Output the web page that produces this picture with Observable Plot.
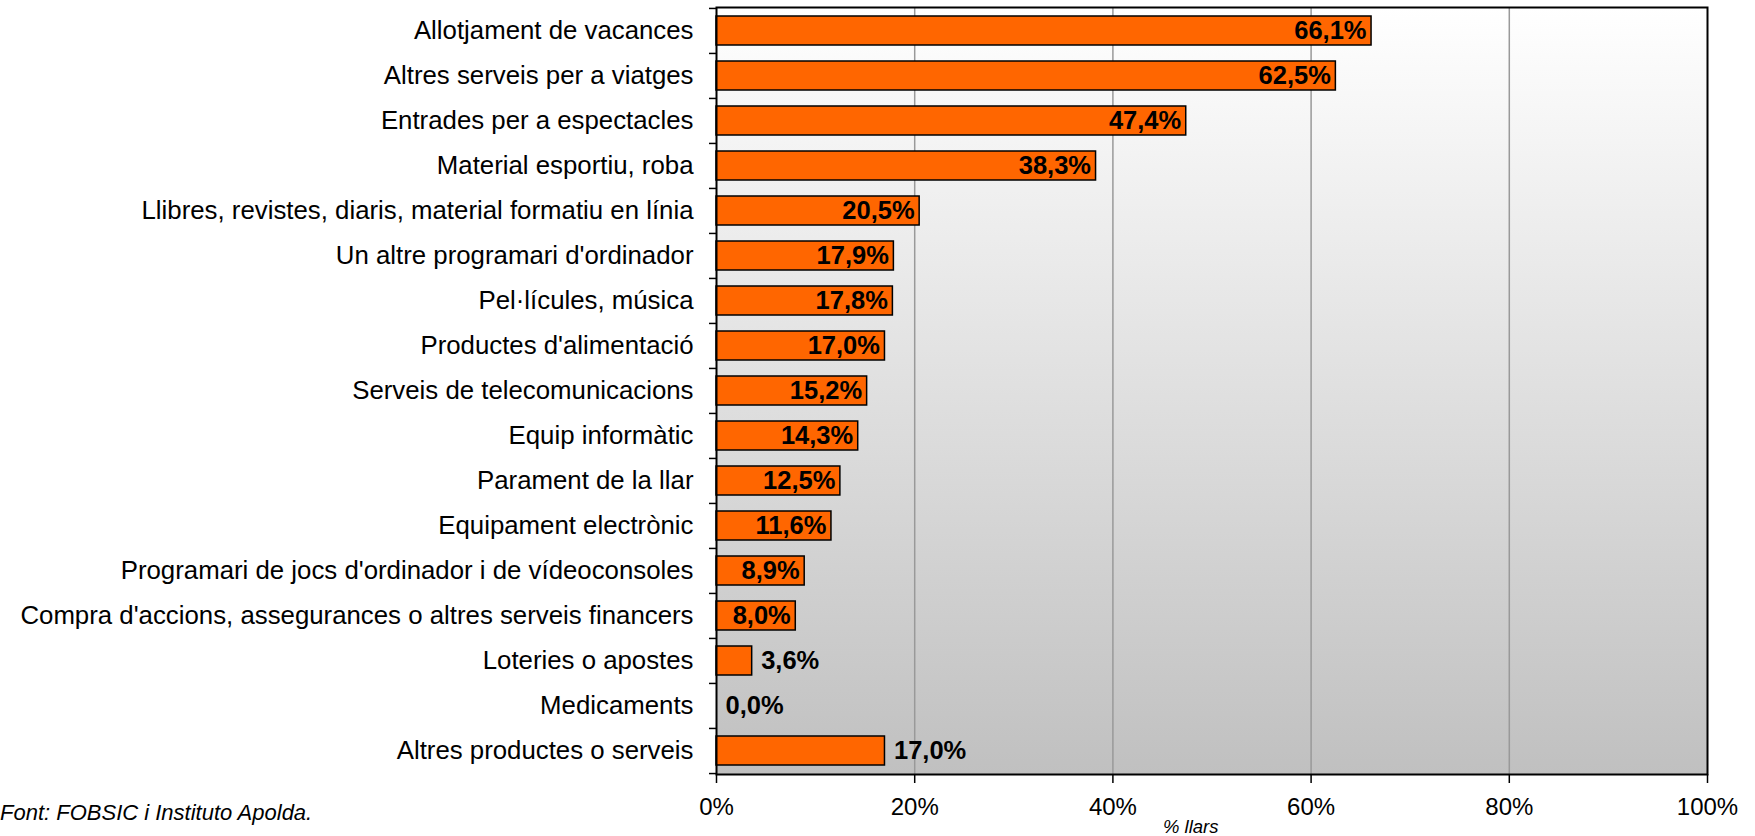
<!DOCTYPE html>
<html>
<head>
<meta charset="utf-8">
<script src="https://cdn.jsdelivr.net/npm/d3@7"></script>
<script src="https://cdn.jsdelivr.net/npm/@observablehq/plot@0.6"></script>
<style>
  html, body { margin: 0; padding: 0; background: #fff; }
  #wrap { position: relative; width: 1755px; height: 836px; overflow: hidden; font-family: "Liberation Sans", Arial, sans-serif; color: #000; }
  #source { position: absolute; left: 0px; top: 800px; font-size: 22px; line-height: 26px; font-style: italic; white-space: nowrap; }
  #xlabel { position: absolute; left: 1163px; top: 816px; font-size: 18.5px; line-height: 22px; font-style: italic; white-space: nowrap; }
</style>
</head>
<body>
<div id="wrap">
  <div id="chart"></div>
  <div id="source">Font: FOBSIC i Instituto Apolda.</div>
  <div id="xlabel">% llars</div>
</div>
<script>
const categories = [
  "Allotjament de vacances",
  "Altres serveis per a viatges",
  "Entrades per a espectacles",
  "Material esportiu, roba",
  "Llibres, revistes, diaris, material formatiu en línia",
  "Un altre programari d'ordinador",
  "Pel·lícules, música",
  "Productes d'alimentació",
  "Serveis de telecomunicacions",
  "Equip informàtic",
  "Parament de la llar",
  "Equipament electrònic",
  "Programari de jocs d'ordinador i de vídeoconsoles",
  "Compra d'accions, assegurances o altres serveis financers",
  "Loteries o apostes",
  "Medicaments",
  "Altres productes o serveis"
];
const values = [66.1, 62.5, 47.4, 38.3, 20.5, 17.9, 17.8, 17.0, 15.2, 14.3, 12.5, 11.6, 8.9, 8.0, 3.6, 0.0, 17.0];
const labelOutside = ["Loteries o apostes", "Medicaments", "Altres productes o serveis"];
const xTicks = [0, 20, 40, 60, 80, 100];
const gridTicks = [20, 40, 60, 80];

const data = categories.map((c, i) => ({category: c, value: values[i], outside: labelOutside.includes(c)}));
const fmt = v => v.toFixed(1).replace(".", ",") + "%";

const W = 1755, H = 836, mL = 716, mR = 48, mT = 7, mB = 62;
const step = (H - mT - mB) / categories.length;

const chart = Plot.plot({
  width: W, height: H,
  marginLeft: mL, marginRight: mR, marginTop: mT, marginBottom: mB,
  style: {fontFamily: "'Liberation Sans', Arial, sans-serif", fontSize: "24px", color: "#000", background: "transparent", overflow: "visible"},
  x: {domain: [0, 100]},
  y: {domain: categories, paddingInner: 0.36, paddingOuter: 0.18},
  marks: [
    Plot.frame({fill: "#ddd", ariaLabel: "bgframe"}),
    Plot.ruleX(gridTicks, {stroke: "#999", strokeWidth: 1.5}),
    Plot.barX(data, {x: "value", y: "category", fill: "#ff6600", stroke: "#000", strokeWidth: 1.5}),
    Plot.text(data.filter(d => !d.outside), {x: "value", y: "category", text: d => fmt(d.value), textAnchor: "end", dx: -5, fontWeight: "bold", fontSize: 25.5, fill: "#000"}),
    Plot.text(data.filter(d => d.outside), {x: "value", y: "category", text: d => fmt(d.value), textAnchor: "start", dx: 9, fontWeight: "bold", fontSize: 25.5, fill: "#000"}),
    Plot.frame({stroke: "#000", strokeWidth: 2}),
    Plot.axisX({ticks: xTicks, tickFormat: d => d + "%", tickSize: 9, tickPadding: 14, strokeWidth: 1.5, label: null, fontSize: 24}),
    Plot.axisY({tickSize: 0, tickPadding: 23, label: null, fontSize: 25.8}),
    Plot.axisY({ticks: categories, tickSize: 7, dy: -step / 2, tickFormat: () => "", strokeWidth: 1.5, label: null}),
    Plot.axisY({ticks: categories.slice(-1), tickSize: 7, dy: step / 2, tickFormat: () => "", strokeWidth: 1.5, label: null})
  ]
});

// background gradient (white at top to grey at bottom)
const ns = "http://www.w3.org/2000/svg";
const defs = document.createElementNS(ns, "defs");
const grad = document.createElementNS(ns, "linearGradient");
grad.setAttribute("id", "bgGrad");
grad.setAttribute("x1", "0"); grad.setAttribute("y1", "0");
grad.setAttribute("x2", "0"); grad.setAttribute("y2", "1");
[["0%", "#ffffff"], ["100%", "#c0c0c0"]].forEach(([o, c]) => {
  const s = document.createElementNS(ns, "stop");
  s.setAttribute("offset", o); s.setAttribute("stop-color", c);
  grad.appendChild(s);
});
defs.appendChild(grad);
chart.insertBefore(defs, chart.firstChild);
const bg = chart.querySelector('[aria-label="bgframe"]');
if (bg) {
  bg.setAttribute("fill", "url(#bgGrad)");
  bg.querySelectorAll("rect").forEach(r => r.setAttribute("fill", "url(#bgGrad)"));
}

document.getElementById("chart").appendChild(chart);
</script>
</body>
</html>
